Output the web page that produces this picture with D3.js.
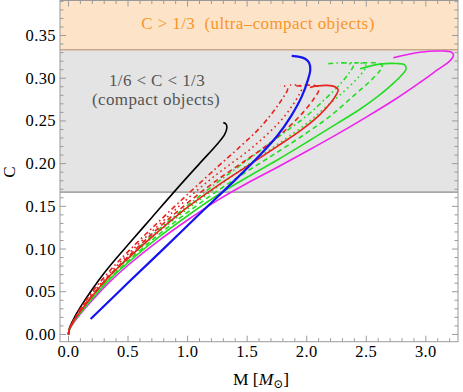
<!DOCTYPE html>
<html>
<head>
<meta charset="utf-8">
<script src="https://cdn.jsdelivr.net/npm/d3@7"></script>
<style>
  body { margin: 0; background: #fff; }
  text { font-family: "Liberation Serif", "DejaVu Serif", serif; }
</style>
</head>
<body>
<svg id="chart" width="463" height="392"></svg>
<script>
// Mass-compactness curves, [M, C]
const blackSolid = [[0,0],[0.01,0.008],[0.05,0.02],[0.1,0.032],[0.2,0.053],[0.3,0.072],[0.4,0.089],[0.5,0.105],[0.7,0.137],[0.9,0.169],[1.1,0.2],[1.25,0.223],[1.31,0.234],[1.33,0.242],[1.322,0.2465],[1.30,0.248]];
const blueSolid = [[0.186,0.018],[0.5,0.0605],[0.8,0.1005],[1.1,0.141],[1.4,0.181],[1.6,0.209],[1.75,0.232],[1.87,0.256],[1.96,0.279],[2.01,0.298],[2.03,0.31],[2.02,0.318],[1.99,0.3225],[1.94,0.325],[1.874,0.3262]];
const magentaSolid = [[0,0],[0.01,0.006],[0.05,0.015],[0.1,0.024],[0.2,0.04],[0.35,0.062],[0.5,0.081],[0.75,0.109],[1.0,0.134],[1.25,0.157],[1.5,0.177],[1.75,0.1955],[2.0,0.2145],[2.25,0.234],[2.5,0.2545],[2.75,0.276],[2.95,0.295],[3.1,0.31],[3.2,0.32],[3.232,0.3268],[3.215,0.3305],[3.15,0.3318],[2.95,0.3305],[2.727,0.324]];
const greenSolid = [[0,0],[0.01,0.006],[0.05,0.016],[0.1,0.025],[0.2,0.042],[0.35,0.065],[0.5,0.084],[0.75,0.113],[1.0,0.139],[1.25,0.163],[1.5,0.184],[1.75,0.204],[2.0,0.225],[2.25,0.2465],[2.45,0.264],[2.6,0.279],[2.72,0.293],[2.8,0.304],[2.835,0.311],[2.82,0.3158],[2.756,0.3172],[2.615,0.3165],[2.448,0.311]];
const greenDashed = [[0,0],[0.01,0.0065],[0.05,0.016],[0.1,0.026],[0.2,0.043],[0.35,0.066],[0.5,0.086],[0.75,0.116],[1.0,0.143],[1.25,0.168],[1.5,0.191],[1.75,0.213],[2.0,0.236],[2.2,0.256],[2.39,0.279],[2.52,0.295],[2.61,0.308],[2.636,0.3135],[2.61,0.3172],[2.475,0.318],[2.40,0.318]];
const greenDotted = [[0,0],[0.01,0.0065],[0.05,0.016],[0.1,0.026],[0.2,0.044],[0.35,0.068],[0.5,0.088],[0.75,0.119],[1.0,0.147],[1.25,0.173],[1.5,0.198],[1.75,0.222],[2.0,0.247],[2.15,0.265],[2.3,0.283],[2.42,0.299],[2.48,0.309],[2.5,0.3145],[2.46,0.3175],[2.33,0.318]];
const greenDotDashed = [[0,0],[0.01,0.007],[0.05,0.017],[0.1,0.027],[0.2,0.045],[0.35,0.069],[0.5,0.09],[0.75,0.122],[1.0,0.151],[1.25,0.178],[1.5,0.204],[1.75,0.23],[2.0,0.256],[2.15,0.275],[2.28,0.293],[2.36,0.307],[2.39,0.3145],[2.35,0.3175],[2.17,0.317]];
const redSolid = [[0,0],[0.01,0.007],[0.05,0.017],[0.1,0.027],[0.2,0.045],[0.35,0.069],[0.5,0.089],[0.75,0.12],[1.0,0.149],[1.25,0.174],[1.5,0.197],[1.75,0.22],[1.95,0.239],[2.1,0.256],[2.2,0.271],[2.25,0.281],[2.264,0.2865],[2.24,0.2898],[2.168,0.2916],[2.084,0.2908],[2.028,0.2893]];
const redDashed = [[0,0],[0.01,0.007],[0.05,0.017],[0.1,0.028],[0.2,0.046],[0.35,0.07],[0.5,0.091],[0.75,0.124],[1.0,0.154],[1.25,0.181],[1.5,0.205],[1.7,0.225],[1.85,0.243],[1.97,0.26],[2.06,0.276],[2.1,0.2855],[2.09,0.2905],[2.04,0.2918],[1.95,0.2915],[1.885,0.290]];
const redDotted = [[0,0],[0.01,0.0075],[0.05,0.018],[0.1,0.029],[0.2,0.048],[0.35,0.072],[0.5,0.094],[0.75,0.127],[1.0,0.159],[1.25,0.188],[1.5,0.214],[1.65,0.232],[1.78,0.25],[1.88,0.268],[1.94,0.282],[1.96,0.289],[1.93,0.2915],[1.86,0.292]];
const redDotDashed = [[0,0],[0.01,0.0075],[0.05,0.018],[0.1,0.03],[0.2,0.05],[0.35,0.075],[0.5,0.097],[0.75,0.131],[1.0,0.164],[1.25,0.196],[1.45,0.221],[1.6,0.241],[1.72,0.261],[1.8,0.277],[1.84,0.2875],[1.82,0.2905],[1.78,0.2912]];

const xTicks = [0.0, 0.5, 1.0, 1.5, 2.0, 2.5, 3.0];
const yTicks = [0.00, 0.05, 0.10, 0.15, 0.20, 0.25, 0.30, 0.35];

const series = [
  { data: blackSolid, color: "#000000", dash: null, width: 1.6 },
  { data: magentaSolid, color: "#ee22ee", dash: null, width: 1.6 },
  { data: greenSolid, color: "#22dd22", dash: null, width: 1.6 },
  { data: greenDashed, color: "#22dd22", dash: "5,3.5", width: 1.6 },
  { data: greenDotted, color: "#22dd22", dash: "1.6,3.4", width: 1.6 },
  { data: greenDotDashed, color: "#22dd22", dash: "5,3,1.6,3", width: 1.6 },
  { data: redSolid, color: "#e8221e", dash: null, width: 1.6 },
  { data: redDashed, color: "#e8221e", dash: "5,3.5", width: 1.6 },
  { data: redDotted, color: "#e8221e", dash: "1.6,3.4", width: 1.6 },
  { data: redDotDashed, color: "#e8221e", dash: "5,3,1.6,3", width: 1.6 },
  { data: blueSolid, color: "#1414f0", dash: null, width: 2.2 }
];

const svg = d3.select("#chart");
const plotLeft = 60, plotRight = 458, plotTop = 0.5, plotBottom = 341.7;

const x = d3.scaleLinear().domain([-0.071, 3.27]).range([plotLeft, plotRight]);
const y = d3.scaleLinear().domain([-0.0085, 0.391]).range([plotBottom, plotTop]);

svg.append("defs").append("clipPath").attr("id", "plot")
  .append("rect")
  .attr("x", plotLeft).attr("y", plotTop)
  .attr("width", plotRight - plotLeft).attr("height", plotBottom - plotTop);

// Compactness bands
svg.append("rect")
  .attr("x", plotLeft).attr("y", plotTop)
  .attr("width", plotRight - plotLeft).attr("height", y(1 / 3) - plotTop)
  .attr("fill", "#fde4c9");
svg.append("rect")
  .attr("x", plotLeft).attr("y", y(1 / 3))
  .attr("width", plotRight - plotLeft).attr("height", y(1 / 6) - y(1 / 3))
  .attr("fill", "#e4e4e4");
svg.append("line")
  .attr("x1", plotLeft).attr("x2", plotRight)
  .attr("y1", y(1 / 3)).attr("y2", y(1 / 3))
  .attr("stroke", "#c9a88a").attr("stroke-width", 1.6);
svg.append("line")
  .attr("x1", plotLeft).attr("x2", plotRight)
  .attr("y1", y(1 / 6)).attr("y2", y(1 / 6))
  .attr("stroke", "#a8a8a8").attr("stroke-width", 1.6);

const note = (tx, ty, str, color) => svg.append("text")
  .attr("x", tx).attr("y", ty)
  .attr("text-anchor", "middle")
  .attr("font-size", 17)
  .attr("letter-spacing", 0.4)
  .attr("fill", color)
  .attr("xml:space", "preserve")
  .text(str);

note(258, 29, "C > 1/3  (ultra\u2013compact objects)", "#f7962a");
note(157, 86, "1/6 < C < 1/3", "#555");
note(156, 105, "(compact objects)", "#555");

// Curves
const line = d3.line()
  .x(d => x(d[0]))
  .y(d => y(d[1]))
  .curve(d3.curveCatmullRom.alpha(0.5));

svg.append("g")
  .attr("clip-path", "url(#plot)")
  .selectAll("path")
  .data(series)
  .join("path")
  .attr("fill", "none")
  .attr("stroke", d => d.color)
  .attr("stroke-width", d => d.width)
  .attr("stroke-dasharray", d => d.dash)
  .attr("stroke-linecap", "butt")
  .attr("d", d => line(d.data));

// Frame and ticks
const tickColor = "#9a9a9a";
const axes = svg.append("g").attr("stroke", tickColor).attr("stroke-width", 1);

axes.append("rect")
  .attr("x", plotLeft).attr("y", plotTop)
  .attr("width", plotRight - plotLeft).attr("height", plotBottom - plotTop)
  .attr("fill", "none");

const xMinor = d3.range(0, 33).map(i => i / 10).filter(v => x(v) < plotRight);
const yMinor = d3.range(0, 40).map(i => i / 100).filter(v => y(v) > plotTop);

const isMajor = (v, step) => Math.abs(v / step - Math.round(v / step)) < 1e-6;

axes.selectAll(".xtick")
  .data(xMinor)
  .join("g")
  .attr("class", "xtick")
  .each(function (v) {
    const len = isMajor(v, 0.5) ? 6 : 3.5;
    const g = d3.select(this);
    g.append("line").attr("x1", x(v)).attr("x2", x(v)).attr("y1", plotBottom).attr("y2", plotBottom - len);
    g.append("line").attr("x1", x(v)).attr("x2", x(v)).attr("y1", plotTop).attr("y2", plotTop + len);
  });

axes.selectAll(".ytick")
  .data(yMinor)
  .join("g")
  .attr("class", "ytick")
  .each(function (v) {
    const len = isMajor(v, 0.05) ? 6 : 3.5;
    const g = d3.select(this);
    g.append("line").attr("x1", plotLeft).attr("x2", plotLeft + len).attr("y1", y(v)).attr("y2", y(v));
    g.append("line").attr("x1", plotRight).attr("x2", plotRight - len).attr("y1", y(v)).attr("y2", y(v));
  });

// Tick labels
svg.append("g")
  .selectAll("text")
  .data(xTicks)
  .join("text")
  .attr("x", d => x(d))
  .attr("y", 357)
  .attr("text-anchor", "middle")
  .attr("font-size", 16.5)
  .attr("letter-spacing", 0.4)
  .text(d => d3.format(".1f")(d));

svg.append("g")
  .selectAll("text")
  .data(yTicks)
  .join("text")
  .attr("x", 56)
  .attr("y", d => y(d) + 5.5)
  .attr("text-anchor", "end")
  .attr("font-size", 16.5)
  .attr("letter-spacing", 0.4)
  .text(d => d3.format(".2f")(d));

// Axis titles
const xTitle = svg.append("text")
  .attr("x", 261).attr("y", 385)
  .attr("text-anchor", "middle")
  .attr("font-size", 17.5);
xTitle.append("tspan").text("M [");
xTitle.append("tspan").attr("font-style", "italic").text("M");
xTitle.append("tspan").attr("font-size", 12).attr("dy", 3).text("\u2299");
xTitle.append("tspan").attr("dy", -3).text("]");

svg.append("text")
  .attr("transform", "translate(15,172) rotate(-90)")
  .attr("text-anchor", "middle")
  .attr("font-size", 17)
  .text("C");
</script>
</body>
</html>
